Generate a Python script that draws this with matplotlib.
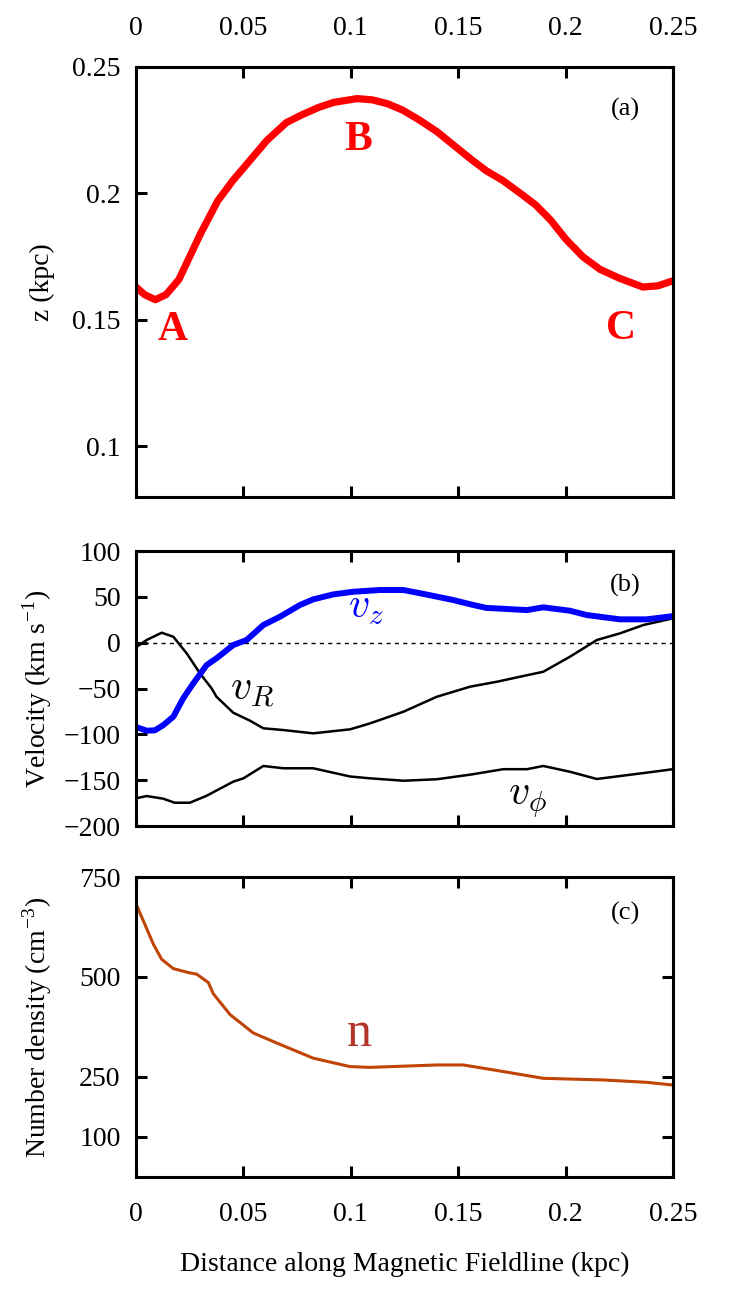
import numpy as np
import matplotlib
matplotlib.use('Agg')
import matplotlib.pyplot as plt
from matplotlib.ticker import FormatStrFormatter

plt.rcParams['font.family'] = ['Liberation Serif', 'DejaVu Serif']
plt.rcParams['mathtext.fontset'] = 'cm'
plt.rcParams['font.size'] = 20

# panel (a): height of the fieldline
x_z = [0, 0.004, 0.009, 0.014, 0.020, 0.025, 0.030, 0.038, 0.045, 0.050, 0.061,
       0.070, 0.077, 0.085, 0.092, 0.103, 0.110, 0.117, 0.124, 0.132, 0.140,
       0.148, 0.156, 0.163, 0.171, 0.179, 0.186, 0.193, 0.200, 0.208, 0.216,
       0.225, 0.236, 0.243, 0.25]
z = [0.163, 0.160, 0.158, 0.160, 0.166, 0.175, 0.184, 0.197, 0.205, 0.210, 0.221,
     0.228, 0.231, 0.234, 0.236, 0.2375, 0.237, 0.2355, 0.233, 0.229, 0.2245,
     0.219, 0.2135, 0.209, 0.205, 0.200, 0.1955, 0.1895, 0.182, 0.175, 0.170,
     0.1665, 0.163, 0.1635, 0.1655]

# panel (b): velocities
x_vz = [0, 0.005, 0.0088, 0.0127, 0.0174, 0.022, 0.0267, 0.0329, 0.0375, 0.0453,
        0.0515, 0.0593, 0.067, 0.0763, 0.0825, 0.0918, 0.1011, 0.1136, 0.1245,
        0.135, 0.1478, 0.1555, 0.163, 0.182, 0.1896, 0.202, 0.2098, 0.2253,
        0.2377, 0.25]
vz = [-92, -96, -95.6, -90, -80.7, -60.7, -44.3, -24.4, -17, -2.5,
      2.9, 19.3, 28.3, 41.1, 47.3, 52.7, 55.6, 57.5, 57.5,
      52.7, 46.5, 42, 38, 35.6, 38.6, 34.9, 30.2, 25.5,
      25.5, 29]

x_vr = [0, 0.005, 0.012, 0.0174, 0.0236, 0.0298, 0.0352, 0.0375, 0.0453, 0.053,
        0.0593, 0.0686, 0.0825, 0.0997, 0.109, 0.1245, 0.14, 0.1555, 0.168,
        0.1788, 0.1896, 0.202, 0.2145, 0.2253, 0.2362, 0.25]
vr = [-5, 3, 10.9, 6.5, -11.6, -33.4, -49.8, -59, -76.4, -85,
      -93.4, -95.3, -98.9, -94.5, -88, -75.3, -59, -48, -42.6,
      -37.1, -31.7, -15.3, 2.9, 10.2, 19.3, 26.6]

x_vphi = [0, 0.005, 0.0127, 0.018, 0.0251, 0.0329, 0.0453, 0.05, 0.0593, 0.0686,
          0.0825, 0.0997, 0.109, 0.1245, 0.14, 0.1555, 0.171, 0.182, 0.1896,
          0.202, 0.2145, 0.2253, 0.2377, 0.25]
vphi = [-169.8, -167.3, -170.2, -174.6, -174.6, -167, -151.6, -148, -134.5, -137,
        -137, -146, -148, -150.6, -149, -144, -138, -138, -134.5,
        -140.8, -148.7, -145.5, -141.8, -138]

# panel (c): number density
x_n = [0, 0.0034, 0.0081, 0.012, 0.0174, 0.0244, 0.0283, 0.0337, 0.036, 0.0438,
       0.0546, 0.0655, 0.0825, 0.0996, 0.109, 0.1245, 0.14, 0.1524, 0.171,
       0.1896, 0.2176, 0.2377, 0.25]
n = [683, 641, 582, 544, 521, 511, 507, 486, 458, 406,
     360, 335, 297, 276, 274, 277, 280, 280, 263.5,
     246.6, 242.5, 236.6, 229.8]

xticks = [0, 0.05, 0.1, 0.15, 0.2, 0.25]

fig = plt.figure(figsize=(7.47, 13.08), dpi=100)
L, R = 0.182, 0.901
ax1 = fig.add_axes([L, 0.620, R - L, 0.9488 - 0.620])
ax2 = fig.add_axes([L, 0.3685, R - L, 0.5787 - 0.3685])
ax3 = fig.add_axes([L, 0.1002, R - L, 0.3295 - 0.1002])

for ax in (ax1, ax2, ax3):
    ax.set_xlim(0, 0.25)
    ax.set_xticks(xticks)
    for s in ax.spines.values():
        s.set_linewidth(2.2)
    ax.tick_params(direction='in', length=8, width=2.2, top=True, bottom=True,
                   labelsize=20, pad=11)
    ax.tick_params(axis='x', labelbottom=False, labeltop=False)
    ax.yaxis.set_label_coords(-0.15, 0.5)

# (a)
ax1.plot(x_z, z, color='#ff0000', lw=5.2, solid_joinstyle='round')
ax1.set_ylim(0.08, 0.25)
ax1.set_yticks([0.1, 0.15, 0.2, 0.25])
ax1.yaxis.set_major_formatter(FormatStrFormatter('%g'))
ax1.xaxis.set_major_formatter(FormatStrFormatter('%g'))
ax1.tick_params(axis='x', labeltop=True, pad=19)
ax1.set_ylabel('z (kpc)')
for lab, xx, yy in [('A', 0.0172, 0.1422), ('B', 0.1033, 0.2172), ('C', 0.2258, 0.1426)]:
    ax1.text(xx, yy, lab, color='#ff0000', fontsize=30, fontweight='bold',
             ha='center', va='baseline')
ax1.text(0.911, 0.902, '(a)', transform=ax1.transAxes, ha='center', va='center', fontsize=19)

# (b)
ax2.axhline(0, color='black', lw=1.0, ls=(0, (3, 3)))
ax2.plot(x_vr, vr, color='black', lw=1.8, solid_joinstyle='round')
ax2.plot(x_vphi, vphi, color='black', lw=1.8, solid_joinstyle='round')
ax2.plot(x_vz, vz, color='#0000ff', lw=4.3, solid_joinstyle='round')
ax2.set_ylim(-200, 100)
ax2.set_yticks([-200, -150, -100, -50, 0, 50, 100])
ax2.set_ylabel('Velocity (km s$^{\\mathregular{-1}}$)')
ax2.text(0.0987, 26.9, '$v_z$', color='#0000ff', fontsize=30, ha='left', va='baseline')
ax2.text(0.0438, -62.5, '$v_R$', color='black', fontsize=30, ha='left', va='baseline')
ax2.text(0.1732, -177, '$v_\\phi$', color='black', fontsize=30, ha='left', va='baseline')
ax2.text(0.911, 0.876, '(b)', transform=ax2.transAxes, ha='center', va='center', fontsize=19)

# (c)
ax3.plot(x_n, n, color='#c04406', lw=2.2, solid_joinstyle='round')
ax3.set_ylim(0, 750)
ax3.set_yticks([100, 250, 500, 750])
ax3.tick_params(axis='y', right=True)
ax3.tick_params(axis='x', labelbottom=True, pad=18)
ax3.xaxis.set_major_formatter(FormatStrFormatter('%g'))
ax3.set_ylabel('Number density (cm$^{\\mathregular{-3}}$)')
ax3.text(0.0982, 327, 'n', color='#b5342a', fontsize=36, ha='left', va='baseline')
ax3.text(0.911, 0.88, '(c)', transform=ax3.transAxes, ha='center', va='center', fontsize=19)
ax3.set_xlabel('Distance along Magnetic Fieldline (kpc)', fontsize=20)
ax3.xaxis.set_label_coords(0.5, -0.25)

fig.savefig('out.png', dpi=100)
